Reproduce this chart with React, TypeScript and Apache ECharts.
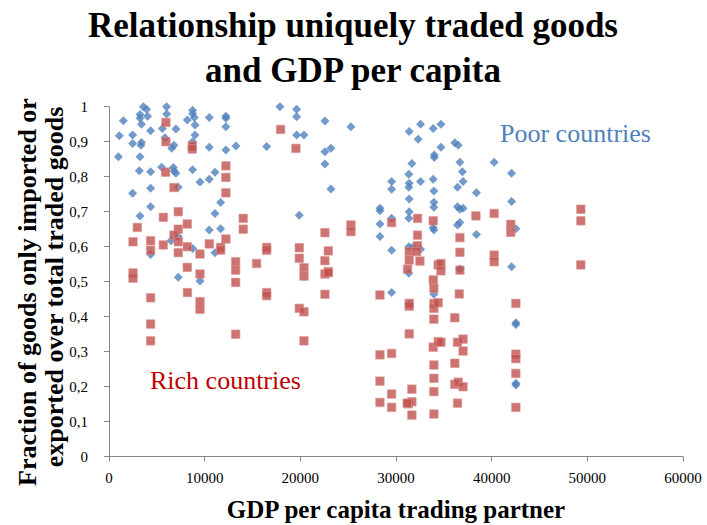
import React, { useEffect, useRef } from "react";
import * as echarts from "echarts";

const titleLines = ["Relationship uniquely traded goods", "and GDP per capita"];
const yAxisNameLines = ["Fraction of goods only imported or", "exported over total traded goods"];
const xAxisName = "GDP per capita trading partner";
const poorLabel = "Poor countries";
const richLabel = "Rich countries";

// Poor countries (blue diamonds): [GDP per capita, fraction]
const poorCountries: number[][] = [
  [3590, 1.0], [3930, 0.993], [6020, 1.0], [8740, 0.99], [8740, 0.98], [1500, 0.96], [3240, 0.978], [3240, 0.967],
  [4030, 0.973], [6030, 0.979], [3400, 0.95], [8180, 0.962], [8920, 0.969], [8990, 0.948], [10480, 0.969],
  [12220, 0.973], [12220, 0.967], [12220, 0.943], [17870, 1.0], [19610, 0.993], [19610, 0.971], [4350, 0.931],
  [5570, 0.938], [7000, 0.936], [1080, 0.917], [2470, 0.919], [5850, 0.911], [8990, 0.919], [2470, 0.895],
  [3400, 0.898], [3340, 0.89], [8740, 0.9], [6790, 0.89], [6550, 0.881], [10480, 0.884], [12220, 0.876],
  [13270, 0.888], [16480, 0.886], [19610, 0.919], [980, 0.857], [3240, 0.857], [3170, 0.817], [4350, 0.814],
  [5500, 0.827], [6720, 0.826], [6790, 0.816], [7000, 0.81], [8740, 0.82], [11080, 0.813], [9510, 0.785],
  [10480, 0.793], [2470, 0.753], [4350, 0.767], [7240, 0.77], [4350, 0.714], [11670, 0.726], [3240, 0.688],
  [11080, 0.695], [19890, 0.69], [6480, 0.617], [7240, 0.629], [10480, 0.648], [11670, 0.651], [4350, 0.578],
  [8740, 0.595], [11080, 0.583], [7240, 0.513], [9510, 0.502],
  [22570, 0.959], [25290, 0.943], [20380, 0.919], [22570, 0.871], [23200, 0.881], [22570, 0.836], [23200, 0.765],
  [31380, 0.929], [32570, 0.95], [33890, 0.938], [34700, 0.95], [32320, 0.907], [36150, 0.897], [36500, 0.89],
  [34700, 0.884], [34000, 0.862], [34000, 0.855], [31660, 0.838], [36680, 0.841], [40260, 0.841], [31340, 0.807],
  [36940, 0.814], [42080, 0.81], [31380, 0.781], [32570, 0.786], [33890, 0.793], [37010, 0.786], [31340, 0.77],
  [29540, 0.786], [29540, 0.764], [33960, 0.759], [36430, 0.77], [38410, 0.754], [31380, 0.736], [33960, 0.727],
  [33960, 0.713], [42080, 0.729], [36430, 0.714], [36680, 0.707], [37010, 0.71], [28320, 0.71], [28320, 0.703],
  [31380, 0.7], [31340, 0.681], [29540, 0.681], [28320, 0.665], [28320, 0.629], [33890, 0.654], [33960, 0.648],
  [36680, 0.669], [36430, 0.662], [38410, 0.635], [42530, 0.651], [31340, 0.6], [31800, 0.6], [32570, 0.593],
  [29540, 0.59], [31340, 0.524], [33960, 0.464], [31450, 0.438], [29540, 0.469], [36680, 0.536], [42080, 0.543],
  [42530, 0.383], [42530, 0.378], [42530, 0.21], [42530, 0.205],
];

// Rich countries (red squares): [GDP per capita, fraction]
const richCountries: number[][] = [
  [5950, 0.955], [5950, 0.9], [8700, 0.888], [8700, 0.879], [17940, 0.935], [19540, 0.881], [5920, 0.813],
  [12220, 0.831], [12220, 0.798], [6790, 0.769], [12220, 0.754], [7240, 0.7], [5680, 0.684], [2960, 0.655],
  [8180, 0.665], [14030, 0.681], [7240, 0.65], [14030, 0.65], [6790, 0.633], [2510, 0.614], [4350, 0.617],
  [7240, 0.614], [5680, 0.605], [10480, 0.608], [12220, 0.622], [11670, 0.598], [4350, 0.59], [7240, 0.583],
  [8180, 0.6], [9510, 0.579], [11670, 0.59], [16480, 0.598], [16480, 0.59], [19890, 0.597], [19890, 0.567],
  [13240, 0.557], [13240, 0.533], [15430, 0.552], [8180, 0.541], [9510, 0.522], [2510, 0.525], [2510, 0.51],
  [13240, 0.498], [16480, 0.469], [16480, 0.46], [8200, 0.469], [4350, 0.454], [9510, 0.443], [9510, 0.421],
  [19890, 0.424], [4350, 0.379], [4350, 0.331], [13240, 0.35],
  [25290, 0.662], [25290, 0.643], [22570, 0.64], [20380, 0.54], [22920, 0.588], [22570, 0.56], [22920, 0.529],
  [29540, 0.669], [32250, 0.681], [32250, 0.633], [32250, 0.603], [33890, 0.674], [31380, 0.586], [31380, 0.562],
  [32150, 0.586], [32500, 0.559], [31210, 0.536], [34410, 0.548],
  [20380, 0.516], [22570, 0.522], [22920, 0.526], [22570, 0.464], [20380, 0.414], [20380, 0.331], [28320, 0.462],
  [31380, 0.438], [31380, 0.43], [31380, 0.351], [28320, 0.291], [29540, 0.295], [28320, 0.216], [29540, 0.179],
  [31660, 0.193], [28320, 0.155], [29540, 0.141], [31280, 0.151], [31660, 0.157], [31660, 0.119], [33890, 0.505],
  [33960, 0.481], [33960, 0.438], [33960, 0.424], [33960, 0.393], [33890, 0.313], [33960, 0.262], [33960, 0.224],
  [33960, 0.186], [33960, 0.122], [34410, 0.329], [34410, 0.44],
  [38350, 0.688], [40260, 0.695], [42000, 0.664], [42000, 0.641], [49320, 0.707], [49320, 0.674], [49320, 0.548],
  [36680, 0.626], [36680, 0.584], [36680, 0.533], [36610, 0.465], [40260, 0.576], [40260, 0.557], [34700, 0.552],
  [34700, 0.531], [36150, 0.397], [42530, 0.438], [36430, 0.327], [37010, 0.336], [37010, 0.302], [42530, 0.293],
  [42530, 0.28], [36150, 0.267], [42530, 0.238], [36150, 0.207], [36500, 0.213], [37010, 0.2], [31170, 0.153],
  [36430, 0.153], [42530, 0.141], [34700, 0.327],
];

const FONT = "'Liberation Serif', 'Times New Roman', serif";

export default function App() {
  const ref = useRef<HTMLDivElement>(null);
  useEffect(() => {
    if (!ref.current) return;
    const chart = echarts.init(ref.current, undefined, { renderer: "svg" });
    const axisColor = "#868686";
    chart.setOption({
      animation: false,
      backgroundColor: "#ffffff",
      grid: { left: 109, right: 24, top: 106.7, bottom: 68.3, containLabel: false },
      xAxis: {
        type: "value",
        min: 0,
        max: 60000,
        interval: 10000,
        splitLine: { show: false },
        axisLine: { show: true, lineStyle: { color: axisColor, width: 1 } },
        axisTick: { show: true, length: 5, lineStyle: { color: axisColor } },
        axisLabel: {
          color: "#000",
          fontFamily: FONT,
          fontSize: 15,
          margin: 14,
          formatter: (v: number) => String(Math.round(v)),
        },
      },
      yAxis: {
        type: "value",
        min: 0,
        max: 1,
        interval: 0.1,
        splitLine: { show: false },
        axisLine: { show: true, lineStyle: { color: axisColor, width: 1 } },
        axisTick: { show: true, length: 5, lineStyle: { color: axisColor } },
        axisLabel: {
          color: "#000",
          fontFamily: FONT,
          fontSize: 15,
          margin: 21,
          formatter: (v: number) => {
            const r = Math.round(v * 10) / 10;
            if (r === 0) return "0";
            if (r === 1) return "1";
            return r.toFixed(1).replace(".", ",");
          },
        },
      },
      graphic: [
        { type: "text", x: 353, y: 25, style: { text: titleLines[0], font: `bold 35px ${FONT}`, fill: "#000", align: "center", verticalAlign: "middle" } },
        { type: "text", x: 353, y: 70, style: { text: titleLines[1], font: `bold 35px ${FONT}`, fill: "#000", align: "center", verticalAlign: "middle" } },
        { type: "text", x: 27, y: 292, rotation: Math.PI / 2, style: { text: yAxisNameLines[0], font: `bold 26px ${FONT}`, fill: "#000", align: "center", verticalAlign: "middle" } },
        { type: "text", x: 54, y: 287, rotation: Math.PI / 2, style: { text: yAxisNameLines[1], font: `bold 26px ${FONT}`, fill: "#000", align: "center", verticalAlign: "middle" } },
        { type: "text", x: 396, y: 509, style: { text: xAxisName, font: `bold 25px ${FONT}`, fill: "#000", align: "center", verticalAlign: "middle" } },
        { type: "text", x: 500, y: 133, style: { text: poorLabel, font: `26px ${FONT}`, fill: "#4F81BD", align: "left", verticalAlign: "middle" } },
        { type: "text", x: 150, y: 380, style: { text: richLabel, font: `26px ${FONT}`, fill: "#C00000", align: "left", verticalAlign: "middle" } },
      ],
      series: [
        {
          name: poorLabel,
          type: "scatter",
          symbol: "diamond",
          symbolSize: 9,
          itemStyle: { color: "#4F81BD" },
          data: poorCountries,
        },
        {
          name: richLabel,
          type: "scatter",
          symbol: "rect",
          symbolSize: 8.5,
          itemStyle: { color: "#C0504D", borderColor: "#D99694", borderWidth: 0.8 },
          data: richCountries,
        },
      ],
    });
    return () => chart.dispose();
  }, []);
  return <div ref={ref} style={{ width: 707, height: 525, position: "absolute", left: 0, top: 0 }} />;
}
